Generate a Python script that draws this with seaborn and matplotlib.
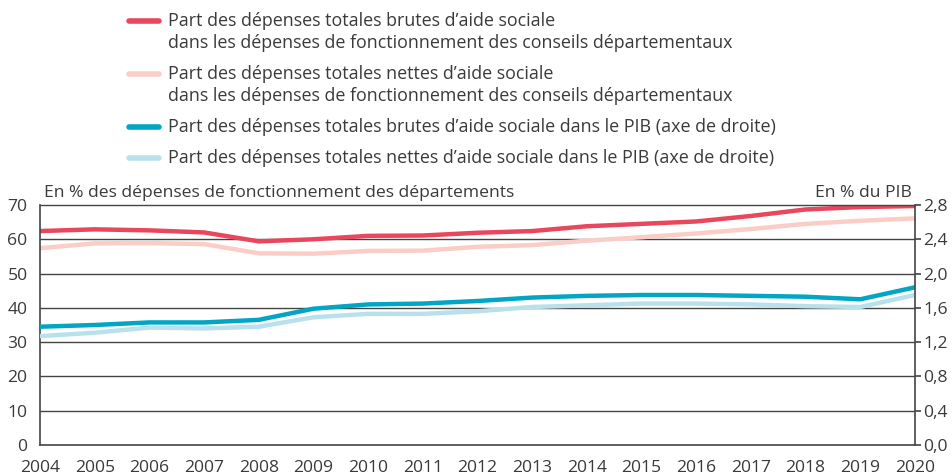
import numpy as np
import pandas as pd
import seaborn as sns
import matplotlib.pyplot as plt
from matplotlib.lines import Line2D

# values
years = list(range(2004, 2021))
brut_fonct = [62.4, 62.9, 62.6, 62.0, 59.4, 60.0, 61.0, 61.1, 61.9, 62.4,
              63.8, 64.5, 65.2, 66.8, 68.7, 69.4, 69.7]
net_fonct = [57.4, 58.8, 58.9, 58.6, 55.9, 55.8, 56.6, 56.7, 57.8, 58.3,
             59.6, 60.6, 61.7, 63.0, 64.5, 65.4, 66.1]
brut_pib = [1.38, 1.40, 1.43, 1.43, 1.46, 1.59, 1.64, 1.65, 1.68, 1.72,
            1.74, 1.75, 1.75, 1.74, 1.73, 1.70, 1.84]
net_pib = [1.27, 1.31, 1.37, 1.36, 1.38, 1.49, 1.53, 1.53, 1.56, 1.61,
           1.63, 1.65, 1.65, 1.64, 1.62, 1.61, 1.75]

labels = [
    "Part des dépenses totales brutes d’aide sociale\ndans les dépenses de fonctionnement des conseils départementaux",
    "Part des dépenses totales nettes d’aide sociale\ndans les dépenses de fonctionnement des conseils départementaux",
    "Part des dépenses totales brutes d’aide sociale dans le PIB (axe de droite)",
    "Part des dépenses totales nettes d’aide sociale dans le PIB (axe de droite)",
]
colors = ["#E8475D", "#FBCDC6", "#00A6C4", "#B8E1EC"]
left_ticks = [0, 10, 20, 30, 40, 50, 60, 70]
right_ticks = [0.0, 0.4, 0.8, 1.2, 1.6, 2.0, 2.4, 2.8]
right_labels = ["0,0", "0,4", "0,8", "1,2", "1,6", "2,0", "2,4", "2,8"]

df = pd.DataFrame({"annee": years, "brut_fonct": brut_fonct, "net_fonct": net_fonct,
                   "brut_pib": brut_pib, "net_pib": net_pib})

sns.set_style("white")
plt.rcParams["font.family"] = ["Open Sans", "DejaVu Sans"]
txt = "#3a3a3a"
grid = "#444444"
fs = 12.6

fig = plt.figure(figsize=(9.52, 4.75), dpi=100)
ax = fig.add_axes([40 / 952, 30 / 475, 875 / 952, 240 / 475])
ax2 = ax.twinx()

sns.lineplot(data=df, x="annee", y="net_fonct", ax=ax, color=colors[1], lw=3.2)
sns.lineplot(data=df, x="annee", y="brut_fonct", ax=ax, color=colors[0], lw=3.2)
sns.lineplot(data=df, x="annee", y="net_pib", ax=ax2, color=colors[3], lw=3.2)
sns.lineplot(data=df, x="annee", y="brut_pib", ax=ax2, color=colors[2], lw=3.2)

ax.set_xlim(2004, 2020)
ax.set_ylim(0, 70)
ax2.set_ylim(0, 2.8)
ax.set_xticks(years)
ax.set_xticklabels([str(y) for y in years])
ax.set_yticks(left_ticks)
ax2.set_yticks(right_ticks)
ax2.set_yticklabels(right_labels)
for t in left_ticks[1:-1]:
    ax.axhline(t, color=grid, lw=1.0, zorder=0)
ax.set_xlabel("")
ax.set_ylabel("")
ax2.set_ylabel("")

ax.tick_params(axis="x", length=8, width=1.2, color=grid, labelsize=fs, labelcolor=txt, pad=3)
ax.tick_params(axis="y", length=0, labelsize=fs, labelcolor=txt, pad=9)
ax2.tick_params(axis="y", length=4, width=1.2, color=grid, labelsize=fs, labelcolor=txt, pad=2)

for a in (ax, ax2):
    for s in a.spines.values():
        s.set_visible(False)
ax.spines["left"].set_visible(True)
ax.spines["bottom"].set_visible(True)
ax2.spines["right"].set_visible(True)
ax2.spines["top"].set_visible(True)
for s in (ax.spines["left"], ax.spines["bottom"], ax2.spines["right"]):
    s.set_color(grid)
    s.set_linewidth(1.2)
ax2.spines["top"].set_color(grid)
ax2.spines["top"].set_linewidth(1.0)

fig.text(44 / 952, 1 - 193 / 475, "En % des dépenses de fonctionnement des départements",
         fontsize=fs, color=txt, va="center", ha="left")
fig.text(912 / 952, 1 - 193 / 475, "En % du PIB",
         fontsize=fs, color=txt, va="center", ha="right")

# legend drawn by hand so that the key sits on the first line of each label
ys = [21, 74, 127, 158]
for lab, col, y in zip(labels, colors, ys):
    fy = 1 - y / 475
    fig.add_artist(Line2D([129 / 952, 159 / 952], [fy, fy], color=col, lw=4,
                          solid_capstyle="round", transform=fig.transFigure))
    fig.text(168 / 952, fy + 9 / 475, lab, fontsize=12.9, color=txt, va="top", ha="left",
             linespacing=1.3)

fig.savefig("out.png", dpi=100)
